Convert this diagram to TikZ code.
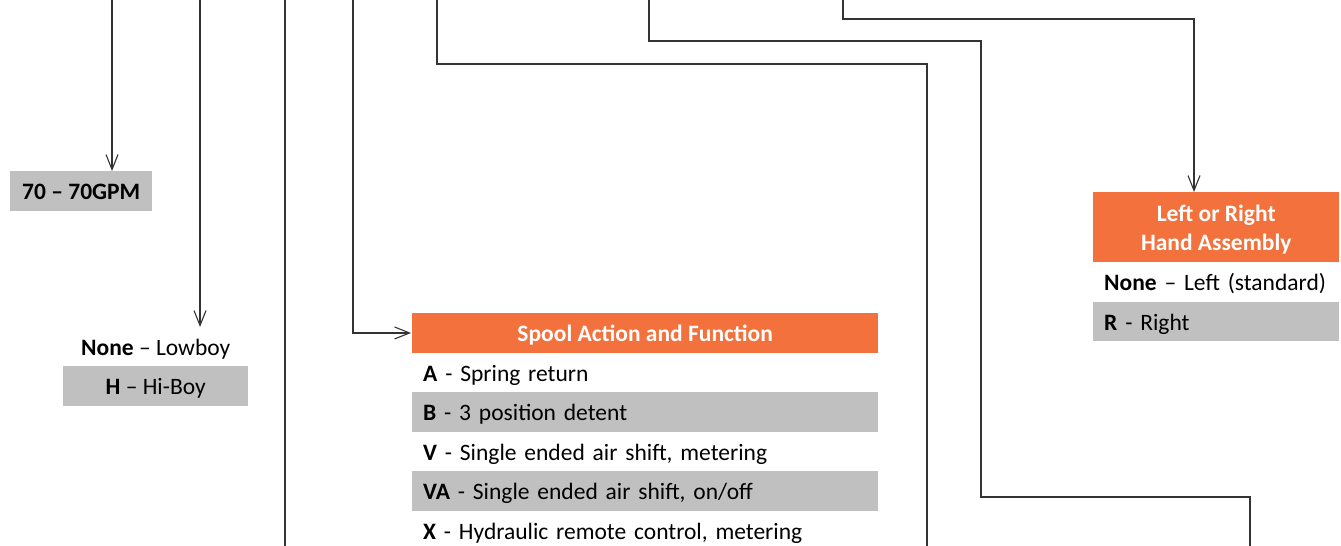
\documentclass[tikz,border=0pt]{standalone}
\usepackage{fontspec}
\setmainfont{Carlito}
\usetikzlibrary{arrows.meta}
\definecolor{orng}{HTML}{F2713C}
\definecolor{gry}{HTML}{C0C0C0}
\definecolor{lncol}{HTML}{333333}
\begin{document}
\begin{tikzpicture}[x=1pt,y=-1pt,
  txt/.style={font=\fontsize{23.5}{28}\selectfont, text height=20pt, text depth=2pt},
  rowbox/.style={txt, anchor=north west, minimum height=39.5pt, inner ysep=0pt, inner xsep=11pt, text width=#1, align=left},
  cbox/.style={txt, anchor=north west, minimum height=39.5pt, inner ysep=0pt, inner xsep=0pt, minimum width=#1, align=center},
  grayrow/.style={fill=gry},
  headbox/.style={txt, anchor=north west, fill=orng, text=white, font=\fontsize{23.5}{29}\selectfont\bfseries, inner sep=0pt, minimum width=#1, align=center},
  conn/.style={draw=lncol, line width=1.1pt},
  arr/.style={conn, -{Straight Barb[length=15pt,width=12pt,line width=1.1pt]}}
]
\useasboundingbox (0,0) rectangle (1341,546);

% left column
\node[cbox=142, grayrow] (n70) at (10,171) {\textbf{70 – 70GPM}};
\node[cbox=185] (lowboy) at (63,327) {\textbf{None} – Lowboy};
\node[cbox=185, grayrow] (hiboy) at (63,366) {\textbf{H} – Hi-Boy};

% spool
\node[headbox=466, minimum height=39.5pt] (spool) at (412,313) {Spool Action and Function};
\node[rowbox=444] (rA) at (412,352.5) {\textbf{A} - Spring return};
\node[rowbox=444, grayrow] (rB) at (412,392) {\textbf{B} - 3 position detent};
\node[rowbox=444] (rV) at (412,431.5) {\textbf{V} - Single ended air shift, metering};
\node[rowbox=444, grayrow] (rVA) at (412,471) {\textbf{VA} - Single ended air shift, on/off};
\node[rowbox=444] (rX) at (412,510.5) {\textbf{X} - Hydraulic remote control, metering};

% left/right
\node[headbox=246, minimum height=70pt, text height=49pt, text depth=2pt] (lr) at (1093,192) {Left or Right\\Hand Assembly};
\node[rowbox=224] (rNone) at (1093,262) {\textbf{None} – Left (standard)};
\node[rowbox=224, grayrow] (rR) at (1093,301.5) {\textbf{R} - Right};

% connector ends
\coordinate (c1) at (112,0);
\coordinate (c2) at (200,0);
\coordinate (c3) at (285,0);
\coordinate (c3e) at (285,546);
\coordinate (c4) at (353,0);
\coordinate (c5) at (437,0);
\coordinate (c5b) at (927,64);
\coordinate (c5e) at (927,546);
\coordinate (c6) at (649,0);
\coordinate (c6b) at (981,41);
\coordinate (c6c) at (1250,497);
\coordinate (c6e) at (1250,546);
\coordinate (c7) at (843,0);
\coordinate (c7b) at (1194,19);

\draw[arr] (c1) -- (c1 |- n70.north);
\draw[arr] (c2) -- (c2 |- lowboy.north);
\draw[conn] (c3) -- (c3e);
\draw[arr] (c4) |- ([xshift=-1pt]spool.west);
\draw[conn] (c5) |- (c5b) -- (c5e);
\draw[conn] (c6) |- (c6b) |- (c6c) -- (c6e);
\draw[arr] (c7) |- (c7b) -- (c7b |- lr.north);
\end{tikzpicture}
\end{document}
